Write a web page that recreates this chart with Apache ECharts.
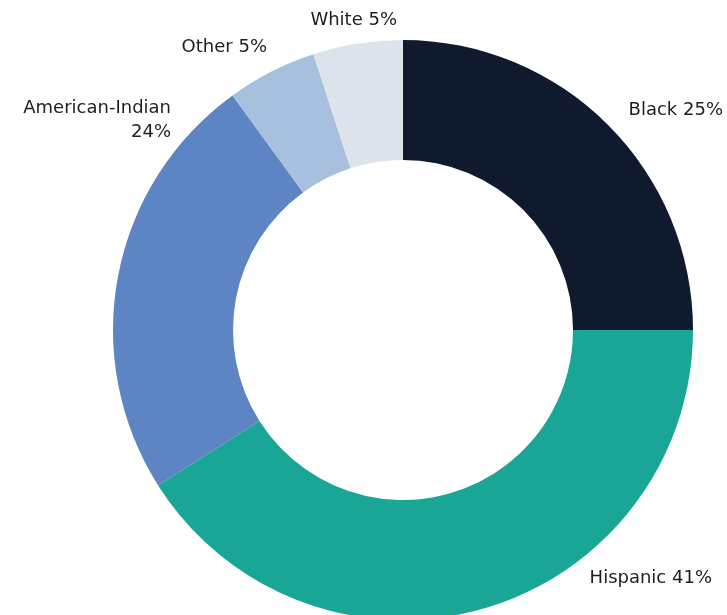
<!DOCTYPE html>
<html><head><meta charset="utf-8">
<script src="https://cdn.jsdelivr.net/npm/echarts@6/dist/echarts.min.js"></script>
<style>html,body{margin:0;padding:0;background:#fff}#c{width:727px;height:615px}</style>
</head><body><div id="c"></div>
<script>
const categories = ["Black", "Hispanic", "American-Indian", "Other", "White"];
const values = [25, 41, 24, 5, 5];
const colors = ["#0f1a2e", "#19a697", "#5d84c3", "#a7c0de", "#dde3eb"];
const labelText = ["Black 25%", "Hispanic 41%", "American-Indian\n24%", "Other 5%", "White 5%"];
// label anchor placement (style only)
const labelPos = [
  { x: 723, y: 110, align: 'right' },
  { x: 712, y: 578, align: 'right' },
  { x: 171, y: 120, align: 'right' },
  { x: 267, y: 47, align: 'right' },
  { x: 397, y: 20, align: 'right' }
];

const chart = echarts.init(document.getElementById('c'));
chart.setOption({
  animation: false,
  backgroundColor: '#ffffff',
  series: [{
    type: 'pie',
    center: [403, 330],
    radius: [170, 290],
    startAngle: 90,
    clockwise: true,
    avoidLabelOverlap: false,
    data: categories.map((c, i) => ({
      name: c, value: values[i], itemStyle: { color: colors[i] },
      label: { formatter: labelText[i] }
    })),
    label: {
      show: true, position: 'outside',
      fontFamily: 'DejaVu Sans', fontSize: 18, color: '#1e1e1e', lineHeight: 24
    },
    labelLine: { show: false },
    labelLayout: function (p) {
      const L = labelPos[p.dataIndex];
      return { x: L.x, y: L.y, align: L.align, verticalAlign: 'middle', hideOverlap: false };
    }
  }]
});
</script></body></html>
